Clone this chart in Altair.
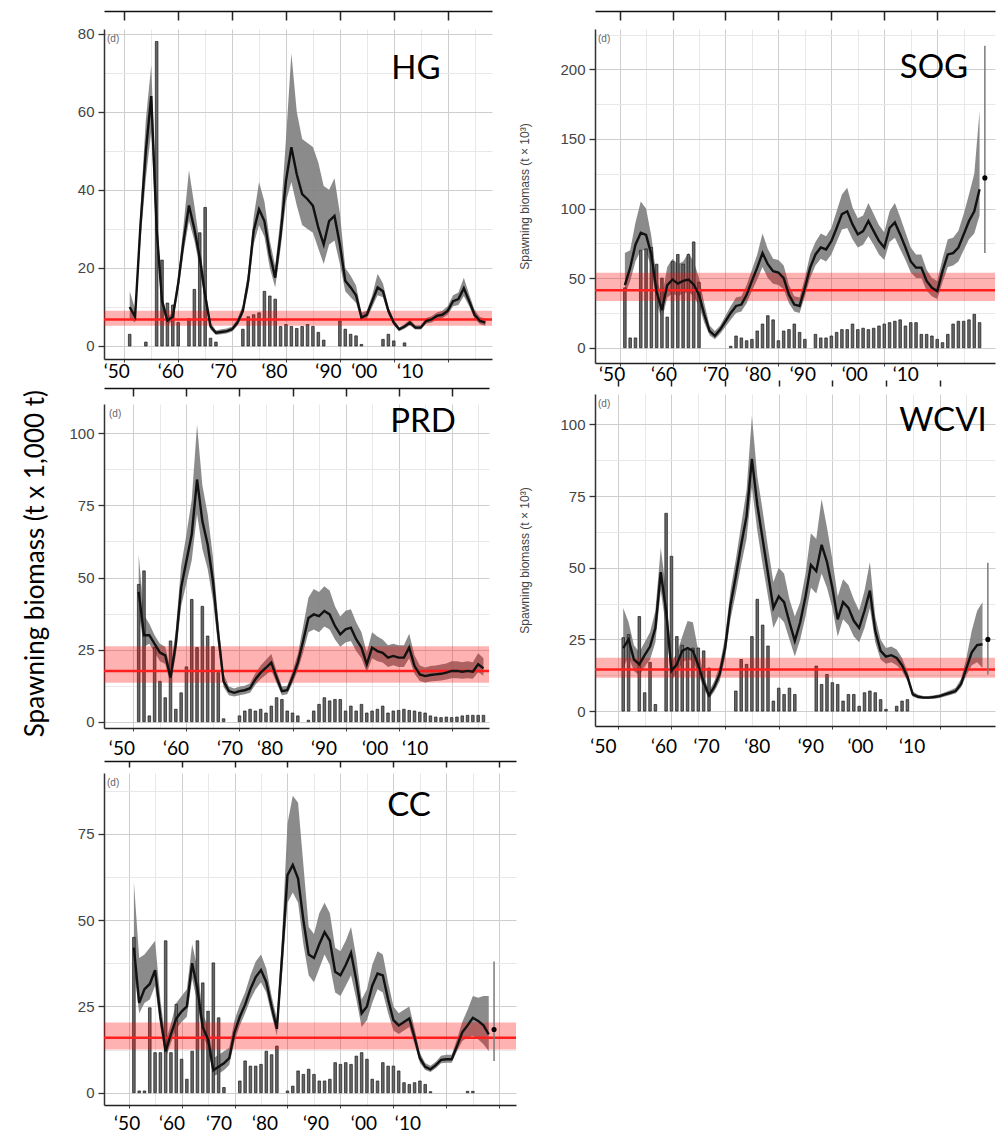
import altair as alt
import pandas as pd

# ---------------- data ----------------
HG_YEARS = list(range(1951, 2018))
hg_med = [10, 7.5, 31, 50, 64, 30, 11.5, 6.5, 7.5, 16,
          27, 36, 30, 22.6, 13, 5, 3.4, 3.6, 3.8, 4.3,
          6, 9, 16.7, 29.5, 35, 32, 23.5, 17.5, 28.6, 42.3,
          50.9, 44, 38.9, 37.6, 35.9, 30.3, 26, 32, 33.3, 26,
          16.7, 15, 13, 7.3, 8, 11.5, 15, 14, 9, 6,
          4.3, 5, 6, 4.7, 4.7, 6.4, 6.8, 7.7, 8, 9,
          11.5, 12, 14.8, 11.5, 8, 6.4, 6]
hg_lo = [7, 6, 27, 43, 55, 26, 9.5, 5.5, 6.5, 14,
         24, 32, 27, 20, 11, 4.2, 2.8, 3, 3.2, 3.7,
         5.2, 8, 14.5, 26, 31, 28, 20, 15, 25, 37,
         42, 36, 31, 30, 29, 25, 21, 26, 27, 21,
         14, 12.5, 11, 6.5, 7, 10, 13, 12.5, 8, 5.3,
         3.8, 4.4, 5.3, 4.2, 4.2, 5.7, 6, 6.8, 7.1, 8,
         10.2, 10.5, 12.8, 10.2, 7, 5.6, 5.2]
hg_hi = [14, 9.5, 35, 58, 72, 34, 13, 7.5, 8.5, 18,
         31, 45, 36, 26, 15, 6, 4, 4.3, 4.5, 5,
         7, 10.5, 19, 33, 42, 37, 27, 20.5, 33, 53,
         75, 60, 53, 52, 51, 47, 41, 40, 43, 34,
         20, 18, 15.5, 8.5, 9, 13, 18.5, 16, 10, 6.8,
         4.8, 5.6, 6.8, 5.3, 5.3, 7.2, 7.6, 8.6, 9, 10.2,
         13, 13.7, 17.5, 13.2, 9.2, 7.4, 7]
hg_catch = [3, 0, 0, 1, 0, 78, 22, 11, 10.5, 6,
            0, 7, 14.5, 29, 35.5, 2, 1, 0, 0, 0,
            0, 4.3, 7.5, 8, 8.5, 14, 12.8, 12, 5, 5.5,
            5, 4.5, 5, 5.5, 5, 3.5, 1.5, 0, 0, 6.4,
            4.3, 3, 2.6, 0.4, 0, 0, 0, 1.7, 3, 1.3,
            0, 0.8, 0, 0, 0, 0, 0, 0, 0, 0,
            0, 0, 0, 0, 0, 0, 0]

SOG_YEARS = list(range(1951, 2019))
sog_med = [45, 57.5, 74, 82.6, 81, 67, 40, 27, 45, 49,
           46, 48, 49, 45.5, 38, 24, 12, 8.5, 13, 19,
           25, 30, 31, 38, 48, 57.5, 68, 60, 55, 54,
           50, 38, 31, 30, 43, 57.5, 67, 72, 70.6, 76.6,
           86, 96, 98, 88.6, 81.4, 83.8, 91, 83.8, 76.6, 72,
           86, 90, 81.4, 72, 62, 57.5, 57.5, 48, 43, 40.7,
           55, 67, 68, 72, 81.4, 91, 98, 113.8]
sog_lo = [38, 48, 62, 70, 70, 57, 32, 20, 36, 39,
          37, 39, 40, 37, 30, 18, 9, 6, 10, 15,
          20, 25, 26, 32, 41, 49, 58, 50, 46, 45,
          42, 32, 26, 25, 37, 50, 59, 64, 62, 67,
          76, 85, 86, 78, 72, 74, 80, 74, 67, 63,
          76, 79, 71, 63, 54, 50, 50, 41, 37, 35,
          47, 58, 59, 62, 70, 78, 82, 95]
sog_hi = [68, 70, 90, 105, 100, 80, 50, 36, 58, 64,
          60, 62, 68, 62, 50, 32, 16, 12, 16, 23,
          30, 36, 37, 45, 56, 67, 82, 71, 64, 63,
          59, 45, 37, 36, 50, 67, 76, 82, 80, 86,
          98, 110, 115, 101, 93, 95, 104, 96, 88, 83,
          98, 104, 94, 83, 72, 67, 67, 56, 50, 48,
          64, 78, 79, 84, 96, 110, 125, 170]
sog_catch = [43, 7, 7, 70, 71, 72, 60, 50, 22, 62,
             67, 60, 67, 76, 47, 0, 0, 0, 0, 0,
             1, 8.4, 7, 5, 6, 12, 17, 23, 20, 5,
             12, 13, 17, 11, 6, 0, 9.6, 7, 7, 8.4,
             11, 13, 13, 17, 13, 14, 13, 14, 15.6, 17,
             18, 19, 20, 15.6, 18, 18, 9.6, 9.6, 8.4, 6,
             3.6, 9.6, 17, 19, 19, 20, 24, 18]

PRD_YEARS = list(range(1951, 2017))
prd_med = [45, 30, 30, 27, 24, 23, 15.3, 27, 46.5, 55.7,
           65, 84, 69.6, 61.5, 48.8, 30.3, 14, 10.6, 10, 10.6,
           10.9, 11.6, 14.7, 17, 18.7, 20.5, 15.3, 10.6, 10.9, 15.3,
           20.5, 28, 36, 37.2, 36.6, 38.4, 37.2, 33.2, 30.3, 32,
           32.6, 28.6, 25.7, 19.9, 25.7, 24.5, 23.9, 22.2, 22.8, 22.2,
           22.2, 25.7, 19.3, 16.4, 15.8, 16.2, 16.4, 16.6, 17, 17.6,
           17.6, 17.3, 17.6, 17.3, 19.9, 18.5]
prd_lo = [38, 26, 27, 24, 21, 20, 13, 23, 40, 48,
          56, 72, 60, 53, 42, 26, 12, 9.2, 8.7, 9.2,
          9.5, 10, 12.8, 14.8, 16.3, 17.8, 13.3, 9.2, 9.5, 13.3,
          17.8, 24, 31, 32, 31, 33, 32, 28.5, 26, 27.5,
          28, 24.5, 22, 17, 22, 21, 20.5, 19, 19.6, 19,
          19, 22, 16.6, 14.1, 13.6, 13.9, 14.1, 14.3, 14.6, 15.1,
          15.1, 14.9, 15.1, 14.9, 17.1, 15.9]
prd_hi = [58, 37, 34, 30, 27, 26, 18, 32, 54, 65,
          77, 103, 82, 72, 57, 35, 16.5, 12.2, 11.5, 12.2,
          12.5, 13.3, 16.8, 19.5, 21.5, 23.5, 17.6, 12.2, 12.5, 17.6,
          23.5, 33, 43, 46, 45, 47, 45.5, 40, 36.5, 38.5,
          39, 34.5, 31, 24, 31, 29.5, 28.5, 26.5, 27, 26.5,
          26.5, 30.5, 23, 19.5, 18.8, 19.3, 19.5, 19.8, 20.2, 21,
          21, 20.6, 21, 20.6, 23.7, 22]
prd_catch = [47.6, 52.3, 2, 25.7, 14, 8.3, 28, 4.3, 10, 19,
             42.4, 25.7, 40, 29.7, 26, 17, 1, 0, 0, 2,
             3.7, 4.3, 3.7, 4.3, 3, 5.4, 8.3, 7.7, 3.7, 3,
             2, 0, 0.5, 3.7, 6, 8.3, 7.2, 7.7, 7.7, 3.7,
             5.4, 3.7, 6, 3, 3.7, 4.3, 5.4, 3, 3.7, 3.9,
             4.3, 3.9, 3.7, 3.3, 3, 2, 1.6, 1.4, 1.6, 1.4,
             1.6, 2, 2.2, 2.2, 2.2, 2.2]

WCVI_YEARS = list(range(1951, 2019))
wcvi_med = [22, 25, 18, 16.3, 19.5, 22.5, 29, 48.5, 35, 14,
            16.3, 21, 22, 21, 16, 10, 5.5, 8.5, 13, 22,
            37, 47, 58, 68, 88, 72, 60, 48, 36, 40,
            38, 31, 24.5, 31, 40, 51, 48.8, 58, 52, 43,
            32, 38, 36, 31.5, 29, 35, 42, 28, 21, 19,
            19.5, 18.5, 16, 12, 5.8, 5, 4.7, 4.7, 4.9, 5.2,
            5.8, 6.4, 7, 9.5, 15, 20.5, 23, 23.3]
wcvi_lo = [15, 19, 14, 12.5, 15.5, 18, 24, 42, 29, 11,
           13, 17, 18, 17.5, 13, 8, 4.3, 6.8, 10.5, 18.5,
           32, 41, 51, 60, 78, 63, 51, 40, 29, 33,
           31, 25, 19, 25, 33, 43, 41, 48, 43, 36,
           26, 32, 30, 26, 24, 29, 36, 24, 18, 16.5,
           17, 16, 14, 10.5, 5, 4.4, 4.2, 4.2, 4.3, 4.6,
           5.1, 5.6, 6.1, 8.2, 12.5, 16, 17, 15]
wcvi_hi = [36, 31, 23, 20.5, 24, 27.5, 35, 57, 42, 17.5,
           20, 26, 31.4, 31, 21, 12.5, 7, 10.5, 16, 26,
           42, 53, 65, 77, 103, 82, 70, 57, 45, 50,
           48, 39, 33, 38, 48, 62, 60, 74, 64, 53,
           40, 46, 44, 39, 35, 42, 52, 33, 25, 22,
           22.5, 21.5, 18.5, 14, 6.8, 5.7, 5.3, 5.3, 5.5, 5.9,
           6.6, 7.3, 8.1, 11.2, 18.5, 28, 35, 38]
wcvi_catch = [25.6, 26.7, 0, 33, 6.4, 17, 2.3, 0, 69, 54,
              26, 23, 22, 22, 22, 21, 15, 0, 0, 0,
              0, 7, 18, 16.3, 26, 39, 30, 22.7, 3.5, 8,
              5.8, 8, 5.8, 0, 0, 0, 15.7, 9.3, 12.8, 9.9,
              9.3, 3.5, 5.8, 5.8, 1.7, 6.4, 7, 6.4, 4, 0.6,
              0, 1.7, 3.5, 4, 0, 0, 0, 0, 0, 0,
              0, 0, 0, 0, 0, 0, 0, 0]

CC_YEARS = list(range(1951, 2019))
cc_med = [42, 26, 30, 31.5, 35.5, 22, 12, 17, 21.5, 23.5,
          25, 37.5, 30, 19, 15.5, 6.5, 7.5, 8.5, 10, 17.5,
          22, 25.5, 30, 33.5, 35.5, 32, 25, 18.5, 40, 63,
          66, 62, 50, 40, 39, 43, 46.5, 44, 35, 34,
          37, 40.5, 32.5, 23, 25, 31, 34.5, 34, 27, 21,
          19.5, 20.5, 21.5, 16, 10, 7.5, 6.8, 8, 9.5, 9.7,
          9.7, 13.5, 17.5, 19.5, 21.7, 20.8, 19.5, 16.9]
cc_lo = [36, 23, 26, 27, 31, 19, 10, 14.5, 18.5, 20.5,
         22, 33, 26, 16.5, 13, 4.8, 5.5, 6.5, 8, 15,
         19.5, 23, 27, 30, 32, 29, 22.5, 16.5, 35, 55,
         58, 55, 43, 34, 32, 36, 40, 37, 29, 28,
         31, 34, 27, 19, 21, 26, 30, 29, 23, 18,
         17, 18, 19, 14, 8.7, 6.6, 6, 7.1, 8.5, 8.7,
         8.7, 12, 15, 16, 16.5, 15.5, 14, 12]
cc_hi = [61, 39, 40, 42, 44, 27, 15, 20, 26, 28,
         30, 43, 36, 23, 19, 10, 11, 12, 13, 21,
         25.5, 29, 34, 38, 40, 36, 28, 21.5, 46, 78,
         86, 84, 66, 48, 46, 52, 55, 52, 42, 41,
         44, 48, 39, 27, 30, 37, 41, 40, 32, 25,
         23, 24, 25, 18.5, 11.5, 8.6, 7.8, 9, 10.7, 11,
         11, 15.5, 20.5, 24, 28, 27.5, 28, 28]
cc_catch = [45, 0.5, 0.5, 24.6, 11.6, 11.6, 44, 11.6, 25.6, 9.7,
            3.9, 12, 44, 31.8, 23.6, 37.6, 21.7, 1.5, 0, 0,
            3.4, 9.2, 7.7, 7.7, 8.2, 12, 11, 13.5, 0, 0.5,
            1.9, 6.3, 5.3, 6.8, 5.3, 3.4, 3.4, 3.9, 8.7, 8.2,
            8.7, 8.2, 10.6, 11.6, 9.7, 3.9, 3.4, 8.7, 7.7, 7.7,
            6.3, 2.9, 2.4, 2.9, 3.4, 2.4, 0.3, 0, 0, 0,
            0, 0, 0, 0.4, 0.4, 0, 0, 0]

# limit reference point (line, lower, upper)
LRP = {"HG": (6.8, 5.2, 9.0), "SOG": (41.2, 33.5, 53.9), "PRD": (17.6, 13.5, 26.2),
       "WCVI": (14.5, 11.6, 18.6), "CC": (15.9, 12.5, 20.3)}
# projected biomass (year, median, low, high)
PROJ = {"SOG": (2019, 122, 68, 217), "WCVI": (2019, 25, 12.8, 51.7), "CC": (2019, 18.3, 9.2, 38)}

TITLE_MAIN = "Spawning biomass (t x 1,000 t)"
TITLE_PANEL = "Spawning biomass (t \u00d7 10\u00b3)"

FONT = "Lato"
AXF = "Liberation Sans"


def build(name, years, med, lo, hi, catch, cfg):
    df = pd.DataFrame({"year": years, "med": med, "lo": lo, "hi": hi, "catch": catch})
    x0, x1 = cfg["xdom"]
    w, h = cfg["w"], cfg["h"]
    xs = alt.Scale(domain=[x0, x1], nice=False, zero=False)
    ys = alt.Scale(domain=cfg["ydom"], nice=False, zero=False)
    xvals = [v for v in range(1950, 2021, 5) if x0 <= v <= x1]
    decades = [v for v in xvals if v % 10 == 0]
    major = "datum.value % 10 === 0"
    lab_off = {"condition": [{"test": f"datum.value === {d}", "value": o}
                             for d, o in cfg["xoff"].items()], "value": 0}
    x_axis = alt.Axis(
        orient="bottom", values=xvals, format="d",
        labelExpr="datum.value % 10 === 0 && datum.value < 2020 ? '\u2018' + substring(datum.label, 2, 4) : ''",
        labelFont=FONT, labelFontSize=19, labelColor="black", labelBaseline="middle",
        labelPadding=cfg["lpad"], labelOffset=lab_off, labelFlush=False, labelOverlap=False,
        grid=True, gridColor={"condition": {"test": major, "value": "#cecece"}, "value": "#e8e8e8"},
        gridWidth=1, tickSize=3, tickColor="#444",
        tickOpacity={"condition": {"test": major, "value": 1}, "value": 0},
        domainColor="#222", domainWidth=1.5, title=None)
    top_axis = alt.Axis(
        orient="top", values=decades, labels=False, grid=False, offset=cfg["toff"],
        domain=cfg["tdom"], domainColor="#111", domainWidth=1.5,
        tickColor="#222", tickWidth=1.5, tickSize={"expr": str(-cfg["ttick"])}, title=None)
    ymaj = cfg["ymaj"]
    ymj = f"datum.value % {ymaj} === 0"
    y_axis = alt.Axis(
        orient="left", values=cfg["yvals"], labelExpr=f"{ymj} ? datum.label : ''",
        labelFont=AXF, labelFontSize=15, labelColor="#444444", labelPadding=4,
        tickSize=6, tickColor="#333", tickWidth=1.3,
        tickOpacity={"condition": {"test": ymj, "value": 1}, "value": 0},
        grid=True, gridColor={"condition": {"test": ymj, "value": "#cecece"}, "value": "#e8e8e8"},
        gridWidth=1, domainColor="#333", domainWidth=1.5,
        title=cfg.get("ytitle", ""), titleFont=AXF, titleFontSize=12, titleFontWeight="normal",
        titleColor="#444", titlePadding=cfg.get("tpad", 10))

    ribbon = alt.Chart(df).mark_area(color="#7b7b7b", opacity=0.88, clip=True).encode(
        x=alt.X("year:Q", scale=xs, axis=None),
        y=alt.Y("lo:Q", scale=ys, axis=None),
        y2="hi:Q")
    bars = alt.Chart(df).transform_filter("datum.catch > 0").mark_bar(
        size=2.6, color="#686868", stroke="#1a1a1a", strokeWidth=0.7, clip=True).encode(
        x=alt.X("year:Q", scale=xs, axis=x_axis),
        y=alt.Y("catch:Q", scale=ys, axis=y_axis, stack=None))
    l, llo, lhi = LRP[name]
    ldf = pd.DataFrame({"lrp": [l], "llo": [llo], "lhi": [lhi]})
    redband = alt.Chart(ldf).mark_rect(color="#ff0000", opacity=0.3).encode(
        y=alt.Y("llo:Q", scale=ys, axis=None), y2="lhi:Q",
        x=alt.value(0), x2=alt.value(w))
    redline = alt.Chart(ldf).mark_rule(color="#ff1f1f", strokeWidth=2.5).encode(
        y=alt.Y("lrp:Q", scale=ys, axis=None))
    line = alt.Chart(df).mark_line(color="#111111", strokeWidth=2.4, clip=True).encode(
        x=alt.X("year:Q", scale=xs, axis=top_axis),
        y=alt.Y("med:Q", scale=ys, axis=None))
    layers = [ribbon, bars, redband, redline, line]
    if name in PROJ:
        py, pv, plo, phi = PROJ[name]
        pdf = pd.DataFrame({"year": [py], "val": [pv], "plo": [plo], "phi": [phi]})
        layers.append(alt.Chart(pdf).mark_rule(color="#7a7a7a", strokeWidth=1.5).encode(
            x=alt.X("year:Q", scale=xs, axis=None),
            y=alt.Y("plo:Q", scale=ys, axis=None), y2="phi:Q"))
        layers.append(alt.Chart(pdf).mark_circle(color="black", size=26, opacity=1).encode(
            x=alt.X("year:Q", scale=xs, axis=None),
            y=alt.Y("val:Q", scale=ys, axis=None)))
    layers.append(alt.Chart(pd.DataFrame({"t": [name]})).mark_text(
        font=FONT, fontSize=33, color="black", align="center", baseline="middle").encode(
        text="t:N", x=alt.value(cfg["lx"]), y=alt.value(cfg["ly"])))
    layers.append(alt.Chart(pd.DataFrame({"t": ["(d)"]})).mark_text(
        font=AXF, fontSize=10, color="#666", align="left", baseline="middle").encode(
        text="t:N", x=alt.value(cfg.get("dx", 3)), y=alt.value(10)))
    return (alt.layer(*layers)
            .resolve_axis(x="independent", y="independent")
            .properties(width=w, height=h))


def rng(a, b, s):
    out, v = [], a
    while v <= b + 1e-9:
        out.append(v)
        v += s
    return out


hg = build("HG", HG_YEARS, hg_med, hg_lo, hg_hi, hg_catch, dict(
    xdom=[1947.16, 2017.3], ydom=[-3.33, 81.2], w=388, h=330, yvals=rng(0, 80, 10), ymaj=20,
    xoff={1950: -8, 1960: -8, 1970: -9, 1980: -12, 1990: -12, 2000: -30, 2010: -38},
    lpad=9, toff=18, ttick=9, tdom=True, lx=312, ly=40))
prd = build("PRD", PRD_YEARS, prd_med, prd_lo, prd_hi, prd_catch, dict(
    xdom=[1945.4, 2016.1], ydom=[-2.2, 110.2], w=385, h=324, yvals=rng(0, 100, 12.5), ymaj=25,
    xoff={1950: -12, 1960: -11, 1970: -10, 1980: -23, 1990: -22, 2000: -24, 2010: -37},
    lpad=17, toff=16, ttick=8, tdom=True, lx=319, ly=18, dx=5))
cc = build("CC", CC_YEARS, cc_med, cc_lo, cc_hi, cc_catch, dict(
    xdom=[1946.3, 2022.2], ydom=[-3.56, 92.6], w=412, h=332, yvals=rng(0, 87.5, 12.5), ymaj=25,
    xoff={1950: -2, 1960: -10, 1970: -16, 1980: -23, 1990: -25, 2000: -30, 2010: -39},
    lpad=15, toff=12, ttick=6, tdom=True, lx=305, ly=33))
sog = build("SOG", SOG_YEARS, sog_med, sog_lo, sog_hi, sog_catch, dict(
    xdom=[1946.3, 2019.97], ydom=[-11, 229], w=400, h=334, yvals=rng(0, 225, 25), ymaj=50,
    xoff={1950: -8, 1960: -9, 1970: -10, 1980: -21, 1990: -29, 2000: -30, 2010: -32},
    lpad=8, toff=18, ttick=9, tdom=True, lx=339, ly=39, ytitle=TITLE_PANEL, tpad=28))
wcvi = build("WCVI", WCVI_YEARS, wcvi_med, wcvi_lo, wcvi_hi, wcvi_catch, dict(
    xdom=[1946.67, 2019.4], ydom=[-5.2, 110.6], w=400, h=332, yvals=rng(0, 100, 12.5), ymaj=25,
    xoff={1950: -15, 1960: -8, 1970: -19, 1980: -22, 1990: -22, 2000: -26, 2010: -28},
    lpad=17, toff=14, ttick=6, tdom=False, lx=348, ly=27, ytitle=TITLE_PANEL, tpad=28))

left = alt.vconcat(hg, prd, cc, spacing=45, bounds="flush")
right = alt.vconcat(sog, wcvi, spacing=31, bounds="flush")
chart = alt.hconcat(left, right, spacing=0).properties(
    title=alt.TitleParams(TITLE_MAIN, orient="left", anchor="middle", font=FONT, fontSize=26,
                          fontWeight="normal", color="black", offset=20, dx=8),
    padding={"left": 14, "top": 2, "right": 0, "bottom": 0},
).configure_view(stroke=None)

chart.save("out.html", embed_options={"renderer": "svg", "actions": False})
